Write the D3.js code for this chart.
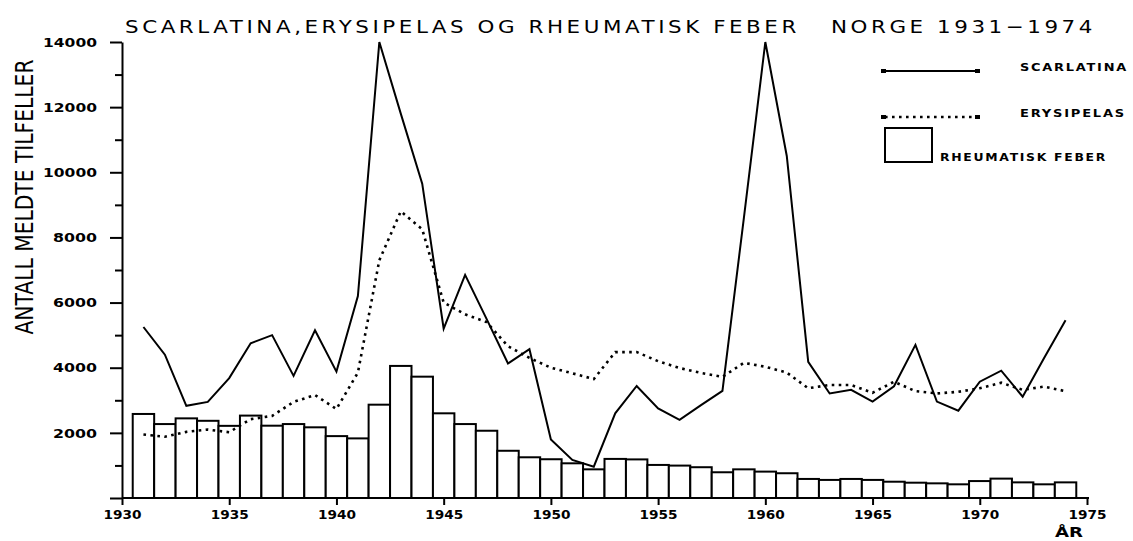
<!DOCTYPE html>
<html>
<head>
<meta charset="utf-8">
<title>Scarlatina, erysipelas og rheumatisk feber</title>
<script src="https://cdn.jsdelivr.net/npm/d3@7"></script>
<style>
  body{margin:0;background:#fff}
  svg{display:block}
  text{font-family:"DejaVu Sans",sans-serif;fill:#000}
  .axis path,.axis line{stroke:#000;stroke-width:2}
  .axis text{font-weight:bold}
</style>
</head>
<body>
<svg id="chart" width="1133" height="541"></svg>
<script>
const years=[1931,1932,1933,1934,1935,1936,1937,1938,1939,1940,
  1941,1942,1943,1944,1945,1946,1947,1948,1949,1950,
  1951,1952,1953,1954,1955,1956,1957,1958,1959,1960,
  1961,1962,1963,1964,1965,1966,1967,1968,1969,1970,
  1971,1972,1973,1974]
const scarlatina=[5250,4400,2830,2950,3680,4750,5000,3750,5150,3880,
  6200,14000,11800,9650,5200,6850,5500,4130,4570,1800,
  1170,960,2600,3440,2750,2400,2850,3290,8600,14000,
  10500,4180,3210,3320,2960,3430,4700,2960,2680,3570,
  3910,3110,4300,5460]
const erysipelas=[1950,1880,2030,2100,2020,2420,2520,2950,3160,2730,
  3850,7300,8800,8250,6000,5640,5400,4660,4300,4000,
  3830,3650,4480,4480,4200,3990,3840,3720,4150,4030,
  3850,3370,3470,3470,3230,3570,3280,3210,3260,3370,
  3540,3320,3420,3280]
const rheumatisk=[2580,2270,2445,2370,2215,2530,2220,2270,2170,1900,
  1830,2865,4055,3725,2600,2270,2065,1450,1250,1190,
  1065,880,1200,1185,1015,995,945,790,880,810,
  760,585,555,585,555,500,470,450,420,520,
  595,480,420,480]
const yTicks=[0,2000,4000,6000,8000,10000,12000,14000]
const yMinor=[1000,3000,5000,7000,9000,11000,13000]
const xTicks=[1930,1935,1940,1945,1950,1955,1960,1965,1970,1975]
const legend=['SCARLATINA','ERYSIPELAS','RHEUMATISK FEBER']

const svg=d3.select('#chart')
const x=d3.scaleLinear().domain([1930,1975]).range([122,1087])
const y=d3.scaleLinear().domain([0,14000]).range([498,42])

// bars first, lines go on top
svg.append('g').selectAll('rect').data(rheumatisk).join('rect')
  .attr('x',(d,i)=>x(years[i]-0.5))
  .attr('width',(d,i)=>x(years[i]+0.5)-x(years[i]-0.5))
  .attr('y',d=>y(d))
  .attr('height',d=>y(0)-y(d))
  .attr('fill','#fff').attr('stroke','#000').attr('stroke-width',2)

const line=d3.line().x((d,i)=>x(years[i])).y(d=>y(d))
svg.append('path').datum(erysipelas).attr('d',line)
  .attr('fill','none').attr('stroke','#000').attr('stroke-width',2.6)
  .attr('stroke-dasharray','2.6,4.4')
svg.append('path').datum(scarlatina).attr('d',line)
  .attr('fill','none').attr('stroke','#000').attr('stroke-width',2)
  .attr('stroke-linejoin','miter')

// axes
svg.append('g').attr('class','axis').attr('transform','translate(122,0)')
  .call(d3.axisLeft(y).tickValues(yMinor).tickSize(7).tickFormat(''))
  .call(g=>g.select('.domain').remove())
svg.append('g').attr('class','axis').attr('transform','translate(122,0)')
  .call(d3.axisLeft(y).tickValues(yTicks).tickSize(12).tickSizeOuter(0).tickPadding(13)
    .tickFormat(d=>d?d:''))
  .call(g=>g.selectAll('text').attr('font-size',13)
    .attr('textLength',d=>d>=10000?54:44).attr('lengthAdjust','spacingAndGlyphs'))
svg.append('g').attr('class','axis').attr('transform','translate(0,498)')
  .call(d3.axisBottom(x).tickValues(xTicks).tickSize(7).tickSizeOuter(0).tickPadding(6)
    .tickFormat(d3.format('d')))
  .call(g=>g.select('.domain').remove())
  .call(g=>g.selectAll('text').attr('font-size',11.5)
    .attr('textLength',38).attr('lengthAdjust','spacingAndGlyphs'))
svg.append('line').attr('x1',x(1930)).attr('x2',x(1975)+2)
  .attr('y1',y(0)).attr('y2',y(0)).attr('stroke','#000').attr('stroke-width',2)

// title: measure, then stretch it to the plotter width
const title=svg.append('text').attr('font-size',18).attr('letter-spacing',3)
  .text('SCARLATINA,ERYSIPELAS OG RHEUMATISK FEBER\u00a0\u00a0 NORGE 1931\u22121974')
const tw=title.node().getComputedTextLength()-3
title.attr('transform',`translate(125,33) scale(${968/tw},1)`)

svg.append('text').attr('transform','translate(33,197) rotate(-90)')
  .attr('text-anchor','middle').attr('font-size',24)
  .attr('textLength',275).attr('lengthAdjust','spacingAndGlyphs')
  .text('ANTALL MELDTE TILFELLER')
svg.append('text').attr('x',1069).attr('y',537).attr('text-anchor','middle')
  .attr('font-size',14).attr('font-weight','bold')
  .attr('textLength',28).attr('lengthAdjust','spacingAndGlyphs').text('ÅR')

// legend
const lg=svg.append('g')
lg.append('line').attr('x1',885).attr('x2',977).attr('y1',71).attr('y2',71)
  .attr('stroke','#000').attr('stroke-width',2)
lg.append('line').attr('x1',885).attr('x2',977).attr('y1',117).attr('y2',117)
  .attr('stroke','#000').attr('stroke-width',2.6).attr('stroke-dasharray','2.6,4.4')
lg.selectAll('rect.end').data([[883,71],[977,71],[883,117],[977,117]]).join('rect')
  .attr('class','end').attr('x',d=>d[0]-2).attr('y',d=>d[1]-2)
  .attr('width',5).attr('height',4).attr('fill','#000')
lg.append('rect').attr('x',885).attr('y',128).attr('width',47).attr('height',34)
  .attr('fill','#fff').attr('stroke','#000').attr('stroke-width',2)
lg.selectAll('text').data(legend).join('text')
  .attr('x',(d,i)=>i<2?1020:940).attr('y',(d,i)=>[71,117,161][i])
  .attr('font-size',11).attr('font-weight','bold').attr('letter-spacing',1.5)
  .attr('textLength',(d,i)=>[108,106,167][i]).attr('lengthAdjust','spacingAndGlyphs')
  .text(d=>d)
</script>
</body>
</html>
